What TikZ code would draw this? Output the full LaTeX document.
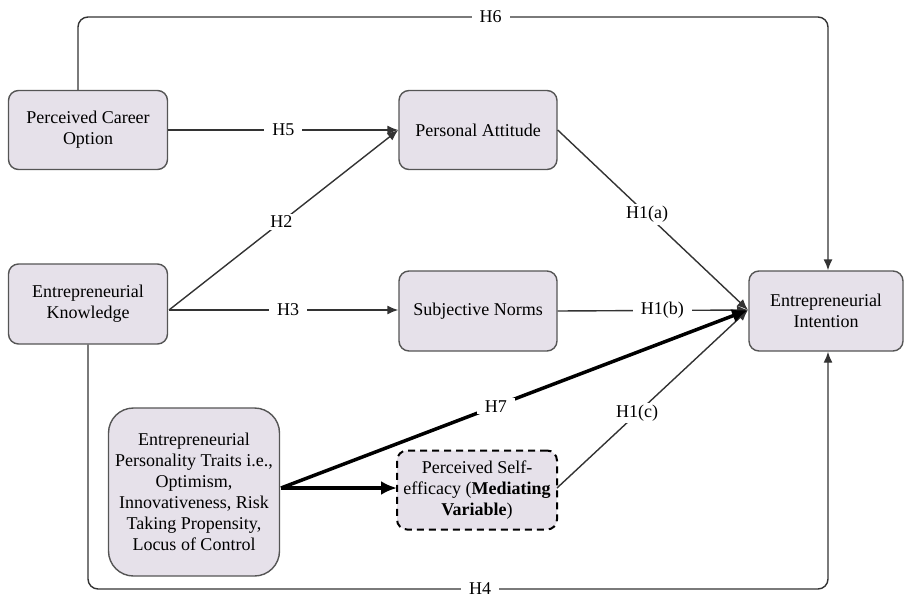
\documentclass[tikz,border=0pt]{standalone}
\usepackage{fontspec}
\setmainfont{Liberation Serif}
\usetikzlibrary{arrows.meta}
\definecolor{boxfill}{HTML}{E6E1EA}
\definecolor{boxline}{HTML}{555555}
\begin{document}
\begin{tikzpicture}[x=1pt,y=-1pt,
  box/.style={draw=boxline,line width=1.4pt,fill=boxfill,rounded corners=10pt,align=center,inner sep=0pt,font=\fontsize{18}{21}\selectfont},
  lbl/.style={fill=white,inner xsep=8pt,inner ysep=2pt,font=\fontsize{18}{21}\selectfont},
  conn/.style={draw=black!80,line width=1.4pt},
  tip/.style={-{Latex[length=11pt,width=9pt]}},
  thick conn/.style={draw=black,line width=3.5pt,-{Latex[length=16pt,width=14pt]}}
]
\useasboundingbox (0,0) rectangle (904,599);
\node[box,minimum width=159pt,minimum height=79pt] (pco) at (88,130) {Perceived Career\\Option};
\node[box,minimum width=158pt,minimum height=79pt] (pa) at (478,130) {Personal Attitude};
\node[box,minimum width=159pt,minimum height=80pt] (ek) at (88,304) {Entrepreneurial\\Knowledge};
\node[box,minimum width=158pt,minimum height=80pt] (sn) at (478,311) {Subjective Norms};
\node[box,minimum width=154pt,minimum height=80pt] (ei) at (826,311) {Entrepreneurial\\Intention};
\node[box,rounded corners=25pt,minimum width=171pt,minimum height=168pt] (pt) at (194,492) {Entrepreneurial\\Personality Traits i.e.,\\Optimism,\\Innovativeness, Risk\\Taking Propensity,\\Locus of Control};
\node[box,dashed,draw=black,line width=2pt,dash pattern=on 7pt off 5pt,minimum width=160pt,minimum height=79pt] (pse) at (477,490) {Perceived Self-\\efficacy (\textbf{Mediating}\\\textbf{Variable})};

\coordinate (eiin) at (748,310);
\coordinate (h6a) at (78,17);
\coordinate (h6b) at (828,17);
\coordinate (h4a) at (88,589);
\coordinate (h4b) at (828,589);
\coordinate (ekout) at (169,310);
\coordinate (ptout) at (281,488);
\coordinate (pseout) at (557,488);
\coordinate (psein) at (397,488);

% H6
\draw[conn,tip,rounded corners=10pt] (pco.north -| h6a) -- (h6a) -- (h6b) -- (ei.north -| h6b);
\path (h6a) -- node[lbl,pos=0.55] {H6} (h6b);
% H4
\draw[conn,tip,rounded corners=10pt] (ek.south -| h4a) -- (h4a) -- (h4b) -- (ei.south -| h4b);
\path (h4a) -- node[lbl,pos=0.53] {H4} (h4b);
% H5
\draw[conn,tip] (pco.east) -- node[lbl,pos=0.5] {H5} (pa.west);
% H2
\draw[conn,tip] (ekout) -- node[lbl,pos=0.49] {H2} (pa.west);
% H3
\draw[conn,tip] (ekout) -- node[lbl,pos=0.52] {H3} (sn.west |- ekout);
% H1(a)
\draw[conn,tip] (pa.east) -- node[lbl,pos=0.47] {H1(a)} (eiin);
% H1(b)
\draw[conn,tip] (sn.east) -- node[lbl,pos=0.55] {H1(b)} (eiin);
% H1(c)
\draw[conn,tip] (pseout) -- node[lbl,pos=0.42] {H1(c)} (eiin);
% H7
\draw[thick conn] (ptout) -- node[lbl,pos=0.46] {H7} (eiin);
% PT -> PSE
\draw[thick conn] (ptout) -- (psein);
\end{tikzpicture}
\end{document}
